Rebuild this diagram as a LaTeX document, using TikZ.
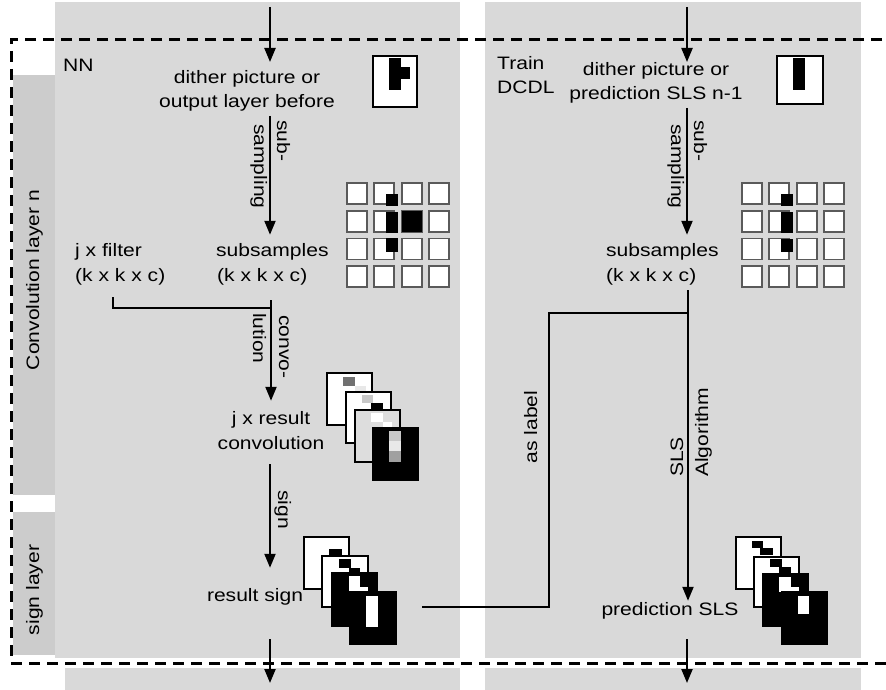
\documentclass[tikz,border=0pt]{standalone}
\usepackage{fontspec}
\setmainfont{Liberation Sans}[FakeStretch=1.17]
\usetikzlibrary{arrows.meta}
\definecolor{panel}{RGB}{217,217,217}
\definecolor{side}{RGB}{204,204,204}
\definecolor{sqborder}{RGB}{90,90,90}
\definecolor{pxdark}{RGB}{112,112,112}
\definecolor{pxmid}{RGB}{160,160,160}
\definecolor{pxlight}{RGB}{200,200,200}
\definecolor{pxpale}{RGB}{232,232,232}
\definecolor{pxfill}{RGB}{221,221,221}
\begin{document}
\begin{tikzpicture}[x=1pt,y=-1pt,
  txt/.style={font=\fontsize{18}{24}\selectfont, inner sep=0pt, text=black},
  conn/.style={line width=2.2pt, draw=black},
  arr/.style={conn, -{Triangle[length=14pt,width=11pt]}},
  cell/.style={draw=sqborder, line width=1.8pt, fill=white},
  tile/.style={draw=black, line width=1.3pt, fill=white},
  frame/.style={draw=black, line width=3pt, dash pattern=on 11pt off 7pt}
]
\useasboundingbox (0,0) rectangle (886,690);
\fill[white] (0,0) rectangle (886,690);
% panels
\fill[panel] (55,2) rectangle (460,658);
\fill[panel] (485,2) rectangle (861,658);
\fill[panel] (65,668) rectangle (460,690);
\fill[panel] (485,668) rectangle (861,690);
\fill[side] (13,75) rectangle (55,495);
\fill[side] (13,512) rectangle (55,655);
% dashed frame
\draw[frame] (900,40) -- (11,40) -- (11,663) -- (900,663);

% side labels
\node[txt, rotate=90, anchor=base] (convlabel) at (39,280) {Convolution layer n};
\node[txt, rotate=90, anchor=base] (signlabel) at (39,590) {sign layer};

% headers
\node[txt, anchor=base west] (nn) at (63,72) {NN};
\node[txt, anchor=base] (d1) at (247,84) {dither picture or};
\node[txt, anchor=base] (d2) at (247,108) {output layer before};
\node[txt, anchor=base west] (tr1) at (497,70) {Train};
\node[txt, anchor=base west] (tr2) at (497,94) {DCDL};
\node[txt, anchor=base] (e1) at (656,76) {dither picture or};
\node[txt, anchor=base] (e2) at (656,100) {prediction SLS n-1};

% icons
\draw[black, line width=1.5pt, fill=white] (373,56) rectangle (417,107);
\fill[black] (389,58) rectangle (401,90);
\fill[black] (401,67) rectangle (410,79);
\draw[black, line width=1.5pt, fill=white] (777,56) rectangle (823,104);
\fill[black] (793,58) rectangle (805,90);

% subsamples text
\node[txt, anchor=base west] (s1) at (216,256) {subsamples};
\node[txt, anchor=base west] (s2) at (217,281) {(k x k x c)};
\node[txt, anchor=base west] (f1) at (75,256) {j x filter};
\node[txt, anchor=base west] (f2) at (75,281) {(k x k x c)};
\node[txt, anchor=base west] (t1) at (606,256) {subsamples};
\node[txt, anchor=base west] (t2) at (606,281) {(k x k x c)};

% grids
\foreach \i in {0,1,2,3} {
  \foreach \j in {0,1,2,3} {
    \draw[cell] ({347+27.3*\i},{183+27.7*\j}) rectangle ++(20,21);
    \draw[cell] ({742+27.3*\i},{183+27.7*\j}) rectangle ++(20,21);
  }
}
\fill[black] (386,194) rectangle (398,206);
\fill[black] (386,212) rectangle (398,233);
\fill[black] (402,211) rectangle (422,232);
\fill[black] (386,238) rectangle (398,252);
\fill[black] (781,194) rectangle (793,206);
\fill[black] (781,212) rectangle (793,233);
\fill[black] (781,239) rectangle (793,252);

% rotated arrow labels
\node[txt, rotate=-90, anchor=base west] (sb1) at (277,120) {sub-};
\node[txt, rotate=-90, anchor=base west] (sb2) at (254,124) {sampling};
\node[txt, rotate=-90, anchor=base west] (sc1) at (694,120) {sub-};
\node[txt, rotate=-90, anchor=base west] (sc2) at (671,124) {sampling};
\node[txt, rotate=-90, anchor=base west] (cv1) at (279,315) {convo-};
\node[txt, rotate=-90, anchor=base west] (cv2) at (253,313) {lution};
\node[txt, rotate=-90, anchor=base west] (sg) at (278,490) {sign};
\node[txt, rotate=90, anchor=base] (al) at (537,427) {as label};
\node[txt, rotate=90, anchor=base west] (sl1) at (683,477) {SLS};
\node[txt, rotate=90, anchor=base west] (sl2) at (708,477) {Algorithm};

% result texts
\node[txt, anchor=base] (r1) at (271,424) {j x result};
\node[txt, anchor=base] (r2) at (271,449) {convolution};
\node[txt, anchor=base] (rs) at (255,601) {result sign};
\node[txt, anchor=base] (ps) at (670,615) {prediction SLS};

% convolution stack
\draw[tile] (327,373) rectangle (372,425);
\fill[pxdark] (343,377) rectangle (355,386);
\fill[pxpale] (355,386) rectangle (366,393);
\draw[tile] (346,392) rectangle (391,443);
\fill[pxlight] (362,395) rectangle (373,403);
\fill[black] (371,403) rectangle (383,410);
\draw[tile, fill=pxfill] (355,410) rectangle (400,462);
\fill[white] (371,413) rectangle (383,422);
\fill[white] (383,422) rectangle (392,428);
\draw[tile, fill=black] (373,428) rectangle (418,480);
\fill[pxlight] (389,431) rectangle (401,441);
\fill[pxpale] (389,441) rectangle (401,451);
\fill[pxmid] (389,451) rectangle (401,462);

% sign stack
\draw[tile] (304,537) rectangle (349,589);
\fill[black] (329,549) rectangle (342,556);
\draw[tile] (322,556) rectangle (368,607);
\fill[black] (339,559) rectangle (351,568);
\fill[black] (349,568) rectangle (360,575);
\draw[tile, fill=black] (332,573) rectangle (377,626);
\fill[white] (349,576) rectangle (360,592);
\fill[white] (360,587) rectangle (368,592);
\draw[tile, fill=black] (350,592) rectangle (396,644);
\fill[white] (366,596) rectangle (378,627);

% prediction stack
\draw[tile] (736,537) rectangle (781,589);
\fill[black] (752,541) rectangle (763,548);
\fill[black] (760,548) rectangle (773,555);
\draw[tile] (754,557) rectangle (799,607);
\fill[black] (770,559) rectangle (782,567);
\fill[black] (779,567) rectangle (791,576);
\draw[tile, fill=black] (763,574) rectangle (808,626);
\fill[white] (779,577) rectangle (791,592);
\fill[white] (791,587) rectangle (799,592);
\draw[tile, fill=black] (782,592) rectangle (827,644);
\fill[white] (798,596) rectangle (809,614);

% coordinates for connector ends
\coordinate (xL) at (270,0);
\coordinate (xR) at (687,0);
\coordinate (inL) at (270,7);
\coordinate (inLe) at (270,62);
\coordinate (inR) at (687,7);
\coordinate (inRe) at (687,62);
\coordinate (outL) at (270,639);
\coordinate (outLe) at (270,683);
\coordinate (outR) at (687,639);
\coordinate (outRe) at (687,683);
\coordinate (fstart) at (113,297);
\coordinate (cjoin) at (271,308);
\coordinate (cstart) at (271,300);
\coordinate (sstart) at (270,464);
\coordinate (pstart) at (688,290);
\coordinate (br1) at (688,313);
\coordinate (br2) at (549,607);
\coordinate (br3) at (422,607);

% connectors
\draw[arr] (inL) -- (inLe);
\draw[arr] (inR) -- (inRe);
\draw[arr, shorten <=4pt, shorten >=8pt] (d2.south -| xL) -- (s1.north -| xL);
\draw[arr, shorten <=4pt, shorten >=8pt] (e2.south -| xR) -- (t1.north -| xR);
\draw[conn] (fstart) |- (cjoin);
\draw[arr, shorten >=10pt] (cstart) -- (r1.north -| cstart);
\draw[arr, shorten >=20pt] (sstart) -- (rs.north -| sstart);
\draw[arr, shorten >=1pt] (pstart) -- (ps.north -| pstart);
\draw[conn] (br1) -| (br2) -- (br3);
\draw[arr] (outL) -- (outLe);
\draw[arr] (outR) -- (outRe);
\end{tikzpicture}
\end{document}
